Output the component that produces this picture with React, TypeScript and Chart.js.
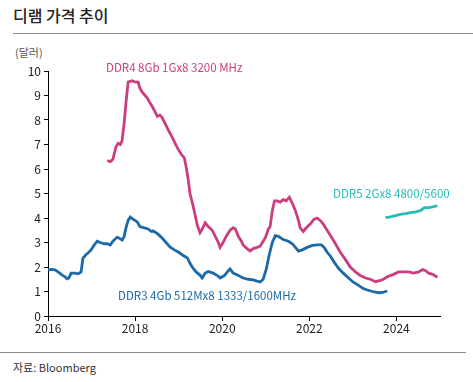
import React, { useEffect, useRef } from "react";
import { Chart, registerables } from "chart.js";

Chart.register(...registerables);

const TITLE = "디램 가격 추이";
const UNIT = "(달러)";
const SOURCE = "자료: Bloomberg";

const X_TICKS = [2016, 2018, 2020, 2022, 2024];

const ddr3Label = "DDR3 4Gb 512Mx8 1333/1600MHz";
const ddr3Dates = [2016.0, 2016.09, 2016.16, 2016.23, 2016.32, 2016.39, 2016.44, 2016.48, 2016.53, 2016.62, 2016.69, 2016.76, 2016.8, 2016.87, 2016.92, 2016.99, 2017.06, 2017.13, 2017.2, 2017.29, 2017.36, 2017.43, 2017.49, 2017.59, 2017.66, 2017.7, 2017.75, 2017.79, 2017.84, 2017.89, 2017.95, 2018.05, 2018.11, 2018.21, 2018.3, 2018.37, 2018.41, 2018.48, 2018.55, 2018.62, 2018.71, 2018.8, 2018.9, 2018.99, 2019.08, 2019.2, 2019.26, 2019.33, 2019.4, 2019.49, 2019.54, 2019.61, 2019.68, 2019.79, 2019.89, 2019.95, 2020.05, 2020.14, 2020.18, 2020.25, 2020.34, 2020.48, 2020.6, 2020.71, 2020.8, 2020.87, 2020.94, 2021.01, 2021.08, 2021.15, 2021.22, 2021.29, 2021.4, 2021.52, 2021.61, 2021.68, 2021.75, 2021.84, 2021.95, 2022.07, 2022.18, 2022.28, 2022.34, 2022.41, 2022.48, 2022.57, 2022.67, 2022.78, 2022.9, 2023.01, 2023.13, 2023.24, 2023.33, 2023.45, 2023.59, 2023.68, 2023.79];
const ddr3Values = [1.88, 1.9, 1.88, 1.8, 1.68, 1.6, 1.52, 1.55, 1.75, 1.75, 1.72, 1.8, 2.35, 2.5, 2.57, 2.7, 2.9, 3.05, 3.0, 2.95, 2.95, 2.9, 3.05, 3.22, 3.15, 3.1, 3.25, 3.6, 3.9, 4.04, 3.95, 3.84, 3.65, 3.6, 3.55, 3.45, 3.48, 3.4, 3.3, 3.18, 3.0, 2.82, 2.7, 2.61, 2.5, 2.37, 2.15, 1.95, 1.8, 1.67, 1.55, 1.75, 1.82, 1.75, 1.65, 1.55, 1.65, 1.85, 1.92, 1.75, 1.68, 1.55, 1.5, 1.47, 1.42, 1.39, 1.5, 1.9, 2.5, 3.0, 3.28, 3.25, 3.12, 3.05, 2.95, 2.8, 2.65, 2.7, 2.8, 2.88, 2.9, 2.9, 2.8, 2.6, 2.45, 2.2, 1.95, 1.75, 1.55, 1.38, 1.25, 1.12, 1.06, 1.0, 0.95, 0.96, 1.02];

const ddr4Label = "DDR4 8Gb 1Gx8 3200 MHz";
const ddr4Dates = [2017.36, 2017.43, 2017.49, 2017.56, 2017.61, 2017.66, 2017.7, 2017.75, 2017.79, 2017.84, 2017.93, 2018.0, 2018.07, 2018.11, 2018.16, 2018.23, 2018.28, 2018.34, 2018.41, 2018.51, 2018.57, 2018.62, 2018.69, 2018.76, 2018.85, 2018.92, 2018.99, 2019.06, 2019.13, 2019.17, 2019.22, 2019.26, 2019.33, 2019.38, 2019.43, 2019.49, 2019.54, 2019.61, 2019.68, 2019.77, 2019.84, 2019.91, 2019.95, 2020.02, 2020.09, 2020.18, 2020.25, 2020.3, 2020.37, 2020.44, 2020.48, 2020.57, 2020.64, 2020.71, 2020.8, 2020.87, 2020.94, 2020.99, 2021.06, 2021.1, 2021.15, 2021.2, 2021.26, 2021.33, 2021.4, 2021.47, 2021.54, 2021.61, 2021.68, 2021.75, 2021.79, 2021.86, 2021.93, 2022.02, 2022.11, 2022.18, 2022.25, 2022.32, 2022.39, 2022.48, 2022.6, 2022.71, 2022.83, 2022.94, 2023.06, 2023.17, 2023.29, 2023.4, 2023.52, 2023.63, 2023.7, 2023.79, 2023.93, 2024.05, 2024.16, 2024.28, 2024.39, 2024.51, 2024.6, 2024.67, 2024.74, 2024.83, 2024.94];
const ddr4Values = [6.35, 6.3, 6.4, 6.9, 7.05, 7.0, 7.15, 7.9, 8.7, 9.55, 9.6, 9.55, 9.55, 9.3, 9.15, 9.0, 8.9, 8.7, 8.5, 8.15, 8.2, 8.1, 7.85, 7.6, 7.3, 7.05, 6.8, 6.6, 6.45, 6.1, 5.55, 5.0, 4.5, 4.1, 3.7, 3.4, 3.55, 3.8, 3.65, 3.5, 3.25, 3.0, 2.8, 3.0, 3.25, 3.5, 3.6, 3.55, 3.25, 3.05, 2.9, 2.75, 2.65, 2.75, 2.8, 2.85, 3.05, 3.2, 3.55, 3.65, 4.3, 4.7, 4.7, 4.65, 4.75, 4.7, 4.85, 4.6, 4.3, 3.9, 3.6, 3.45, 3.6, 3.75, 3.95, 4.0, 3.9, 3.75, 3.55, 3.3, 2.95, 2.6, 2.3, 2.0, 1.8, 1.65, 1.55, 1.5, 1.4, 1.45, 1.5, 1.6, 1.7, 1.8, 1.8, 1.8, 1.75, 1.8, 1.9, 1.85, 1.75, 1.7, 1.58];

const ddr5Label = "DDR5 2Gx8 4800/5600";
const ddr5Dates = [2023.75, 2023.86, 2023.98, 2024.09, 2024.21, 2024.32, 2024.44, 2024.55, 2024.64, 2024.74, 2024.83, 2024.94];
const ddr5Values = [4.02, 4.05, 4.1, 4.15, 4.18, 4.22, 4.25, 4.3, 4.42, 4.42, 4.45, 4.5];

const PINK = "#cc3d7f";
const BLUE = "#1b69a8";
const TEAL = "#27bab6";

const FONT = "'Noto Sans CJK KR', 'Noto Sans', sans-serif";

function pts(xs: number[], ys: number[]) {
  return xs.map((x, i) => ({ x, y: ys[i] }));
}

export default function App() {
  const ref = useRef<HTMLCanvasElement>(null);

  useEffect(() => {
    if (!ref.current) return;
    const chart = new Chart(ref.current, {
      type: "line",
      data: {
        datasets: [
          { label: ddr4Label, data: pts(ddr4Dates, ddr4Values), borderColor: PINK, borderWidth: 2.8, pointRadius: 0, tension: 0 },
          { label: ddr3Label, data: pts(ddr3Dates, ddr3Values), borderColor: BLUE, borderWidth: 2.8, pointRadius: 0, tension: 0 },
          { label: ddr5Label, data: pts(ddr5Dates, ddr5Values), borderColor: TEAL, borderWidth: 2.8, pointRadius: 0, tension: 0 },
        ],
      },
      options: {
        animation: false,
        responsive: false,
        maintainAspectRatio: false,
        layout: { padding: { left: 8, right: 33, top: 11, bottom: 8 } },
        plugins: { legend: { display: false }, tooltip: { enabled: false } },
        scales: {
          x: {
            type: "linear",
            min: 2016,
            max: 2025,
            afterBuildTicks: (s: any) => {
              s.ticks = X_TICKS.map((v) => ({ value: v }));
            },
            afterFit: (s: any) => {
              s.height = 26;
            },
            grid: { display: true, drawOnChartArea: false, drawTicks: true, tickLength: 5, color: "#000" },
            border: { display: true, color: "#000", width: 1 },
            ticks: {
              color: "#222",
              font: { size: 12, family: FONT },
              padding: 0,
              maxRotation: 0,
              callback: (v: any) => String(v),
            },
          },
          y: {
            min: 0,
            max: 10,
            afterFit: (s: any) => {
              s.width = 40;
            },
            grid: { display: true, drawOnChartArea: false, drawTicks: true, tickLength: 4, color: "#000" },
            border: { display: true, color: "#000", width: 1 },
            ticks: { stepSize: 1, color: "#222", font: { size: 12, family: FONT }, padding: 3 },
          },
        },
      },
    });
    return () => chart.destroy();
  }, []);

  const abs = (style: React.CSSProperties): React.CSSProperties => ({ position: "absolute", whiteSpace: "nowrap", fontFamily: FONT, ...style });

  return (
    <div style={{ position: "fixed", left: 0, top: 0, width: 473, height: 382, background: "#fff", overflow: "hidden" }}>
      <div style={abs({ left: 13, top: 3, fontSize: 16, color: "#222", fontWeight: 500 })}>{TITLE}</div>
      <div style={{ position: "absolute", left: 13, top: 33, width: 460, height: 1, background: "#8a8a8a" }} />
      <div style={abs({ left: 15, top: 44, fontSize: 11, color: "#555" })}>{UNIT}</div>
      <canvas ref={ref} width={473} height={290} style={{ position: "absolute", left: 0, top: 60, width: 473, height: 290 }} />
      <div style={abs({ left: 106, top: 59, fontSize: 11.5, color: PINK })}>{ddr4Label}</div>
      <div style={abs({ left: 118, top: 287, fontSize: 11.5, color: BLUE })}>{ddr3Label}</div>
      <div style={abs({ left: 333, top: 185, fontSize: 11.5, color: TEAL })}>{ddr5Label}</div>
      <div style={{ position: "absolute", left: 0, top: 352, width: 466, height: 1, background: "#8a8a8a" }} />
      <div style={abs({ left: 13, top: 359, fontSize: 11, color: "#333" })}>{SOURCE}</div>
    </div>
  );
}
